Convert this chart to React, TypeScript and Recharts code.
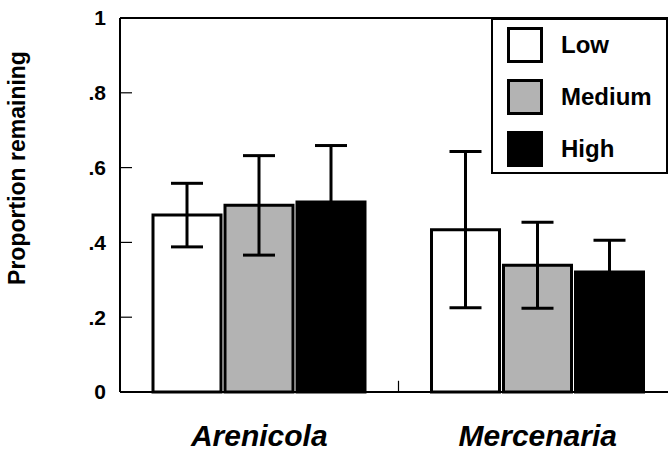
import React from "react";
import {
  BarChart,
  Bar,
  XAxis,
  YAxis,
  ErrorBar,
  Legend,
  ReferenceLine,
  Label,
} from "recharts";

// values (means, with the +/- error half-widths)
const CATEGORIES = ["Arenicola", "Mercenaria"];
const LOW = [0.473, 0.434];
const LOW_ERR = [0.085, 0.209];
const MEDIUM = [0.499, 0.339];
const MEDIUM_ERR = [0.133, 0.115];
const HIGH = [0.508, 0.321];
const HIGH_ERR = [0.151, 0.085];
const Y_TICKS = [0, 0.2, 0.4, 0.6, 0.8, 1];

const FONT = "'Liberation Sans', Arial, Helvetica, sans-serif";

const SERIES = [
  { key: "low", name: "Low", fill: "#ffffff", stroke: "#000000" },
  { key: "medium", name: "Medium", fill: "#b3b3b3", stroke: "#000000" },
  { key: "high", name: "High", fill: "#000000", stroke: "#000000" },
];

const data = CATEGORIES.map((c, i) => ({
  name: c,
  low: LOW[i],
  lowErr: LOW_ERR[i],
  medium: MEDIUM[i],
  mediumErr: MEDIUM_ERR[i],
  high: HIGH[i],
  highErr: HIGH_ERR[i],
}));

const fmtTick = (v: number) => (v === 0 ? "0" : v === 1 ? "1" : String(v).replace(/^0/, ""));

// tick label plus a short inward tick mark
function YTick(props: any) {
  const { x, y, payload } = props;
  const v = payload.value as number;
  return (
    <g>
      <text
        x={x}
        y={y}
        dy="0.355em"
        textAnchor="end"
        fill="#000"
        style={{ fontFamily: FONT, fontSize: 21, fontWeight: 700 }}
      >
        {fmtTick(v)}
      </text>
      {v > 0 && v < 1 && (
        <line x1={x + 14} x2={x + 26} y1={y} y2={y} stroke="#000" strokeWidth={1.2} />
      )}
    </g>
  );
}

function XTick(props: any) {
  const { x, y, payload } = props;
  return (
    <text
      x={x}
      y={y + 54}
      textAnchor="middle"
      fill="#000"
      style={{ fontFamily: FONT, fontSize: 30, fontWeight: 700, fontStyle: "italic" }}
    >
      {payload.value}
    </text>
  );
}

function YLabel(props: any) {
  const { viewBox } = props;
  const cx = viewBox.x + 25;
  const cy = viewBox.y + 150;
  return (
    <text
      x={cx}
      y={cy}
      transform={`rotate(-90 ${cx} ${cy})`}
      textAnchor="middle"
      fill="#000"
      style={{ fontFamily: FONT, fontSize: 23, fontWeight: 700 }}
    >
      Proportion remaining
    </text>
  );
}

function LegendBox() {
  return (
    <div
      style={{
        boxSizing: "border-box",
        width: 177,
        height: 156,
        border: "2px solid #000",
        background: "#fff",
        position: "relative",
        fontFamily: FONT,
      }}
    >
      {SERIES.map((s, i) => (
        <div
          key={s.key}
          style={{
            position: "absolute",
            left: 14,
            top: 7 + i * 52,
            display: "flex",
            alignItems: "center",
          }}
        >
          <div
            style={{
              boxSizing: "border-box",
              width: 36,
              height: 36,
              background: s.fill,
              border: `3px solid ${s.stroke}`,
            }}
          />
          <span
            style={{
              marginLeft: 18,
              fontSize: 24,
              fontWeight: "bold",
              color: "#000",
              lineHeight: "36px",
            }}
          >
            {s.name}
          </span>
        </div>
      ))}
    </div>
  );
}

export default function App() {
  return (
    <div
      style={{
        position: "fixed",
        left: 0,
        top: 0,
        width: 668,
        height: 453,
        overflow: "hidden",
        background: "#fff",
      }}
    >
      <BarChart
        width={720}
        height={453}
        data={data}
        margin={{ top: 18, right: 43, bottom: 0, left: 0 }}
        barCategoryGap={33}
        barGap={4}
      >
        <XAxis
          dataKey="name"
          height={61}
          tickSize={0}
          tickMargin={0}
          tick={<XTick />}
          axisLine={{ stroke: "#000", strokeWidth: 2 }}
          tickLine={false}
        />
        <YAxis
          width={120}
          domain={[0, 1]}
          ticks={Y_TICKS}
          interval={0}
          tickSize={0}
          tickMargin={14}
          tick={<YTick />}
          tickLine={false}
          axisLine={{ stroke: "#000", strokeWidth: 2 }}
        >
          <Label content={<YLabel />} />
        </YAxis>
        <ReferenceLine y={1} stroke="#000" strokeWidth={2} />
        <ReferenceLine
          segment={[
            { x: "Mercenaria", y: 0 },
            { x: "Mercenaria", y: 0.03 },
          ]}
          position="start"
          stroke="#000"
          strokeWidth={1.2}
        />
        {SERIES.map((s) => (
          <Bar
            key={s.key}
            dataKey={s.key}
            name={s.name}
            fill={s.fill}
            stroke={s.stroke}
            strokeWidth={3}
            isAnimationActive={false}
          >
            <ErrorBar
              dataKey={`${s.key}Err`}
              direction="y"
              width={16}
              stroke="#000"
              strokeWidth={3}
              isAnimationActive={false}
            />
          </Bar>
        ))}
        <Legend
          layout="vertical"
          align="center"
          verticalAlign="middle"
          content={<LegendBox />}
          wrapperStyle={{ left: 491, top: 18, width: 177, height: 156 }}
        />
      </BarChart>
    </div>
  );
}
